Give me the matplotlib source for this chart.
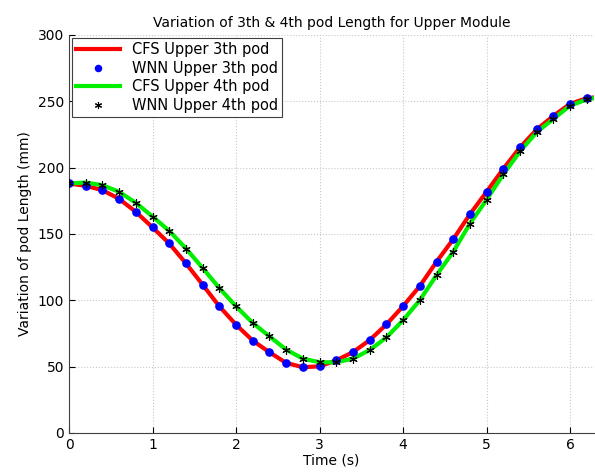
import numpy as np
import matplotlib
matplotlib.use('Agg')
import matplotlib.pyplot as plt

# Temps des echantillons (s)
t = np.arange(32) * 0.2
t_fin = 2 * np.pi

# Pod 3 (points WNN)
wnn_3 = [188, 186.2, 183, 176.4, 166.6, 154.9, 142.8, 127.8, 111.7, 95.4,
         81.6, 69.6, 60.8, 52.8, 49.6, 50.2, 54.7, 61, 70, 81.8,
         95.6, 110.7, 129, 146, 164.8, 181.8, 199.1, 215.2, 228.7, 239,
         248, 252.3]
# Pod 4 (points WNN)
wnn_4 = [188, 188.7, 186.7, 181.7, 173.4, 163.1, 152.3, 139, 124.3, 109.2,
         95.4, 82.9, 72.8, 62.8, 56, 53.3, 53.3, 56, 62.5, 72,
         85, 100.1, 118.9, 136.5, 157.8, 175.8, 194.9, 212.2, 226.7, 236.7,
         246.7, 251.3]

# Courbes CFS (memes valeurs + point final a 2*pi)
t_cfs = list(t) + [t_fin]
cfs_3 = wnn_3 + [252.8]
cfs_4 = wnn_4 + [252.3]

fig = plt.figure(figsize=(5.95, 4.74), dpi=100)
ax = fig.add_axes([0.116, 0.0865, 0.882, 0.84])

ax.plot(t_cfs, cfs_3, color='red', lw=3, label='CFS Upper 3th pod', zorder=2)
ax.plot(t, wnn_3, 'o', color='blue', ms=5.2, label='WNN Upper 3th pod', zorder=4)
ax.plot(t_cfs, cfs_4, color='#00ee00', lw=3, label='CFS Upper 4th pod', zorder=3)
ax.plot(t, wnn_4, ls='none', marker=(6, 2, 0), color='black', mec='black',
        ms=6, mew=0.8, label='WNN Upper 4th pod', zorder=5)

ax.set_xlim(0, t_fin)
ax.set_ylim(0, 300)
ax.set_xticks(range(7))
ax.set_yticks(range(0, 301, 50))
ax.grid(True, ls=':', color='#c8c8c8', lw=0.8)
ax.tick_params(direction='in', labelsize=10, length=4)
ax.spines['top'].set_visible(False)
ax.spines['right'].set_visible(False)
for s in ax.spines.values():
    s.set_color('#404040')

ax.set_title('Variation of 3th & 4th pod Length for Upper Module', fontsize=10)
ax.set_xlabel('Time (s)', fontsize=10, labelpad=1)
ax.set_ylabel('Variation of pod Length (mm)', fontsize=10)

leg = ax.legend(loc='upper left', fontsize=10.5, fancybox=False, framealpha=1,
                edgecolor='#404040', borderaxespad=0.2, handlelength=3,
                labelspacing=0.25, borderpad=0.3, markerscale=0.85)
leg.get_frame().set_linewidth(0.8)

fig.savefig('out.png', dpi=100)
